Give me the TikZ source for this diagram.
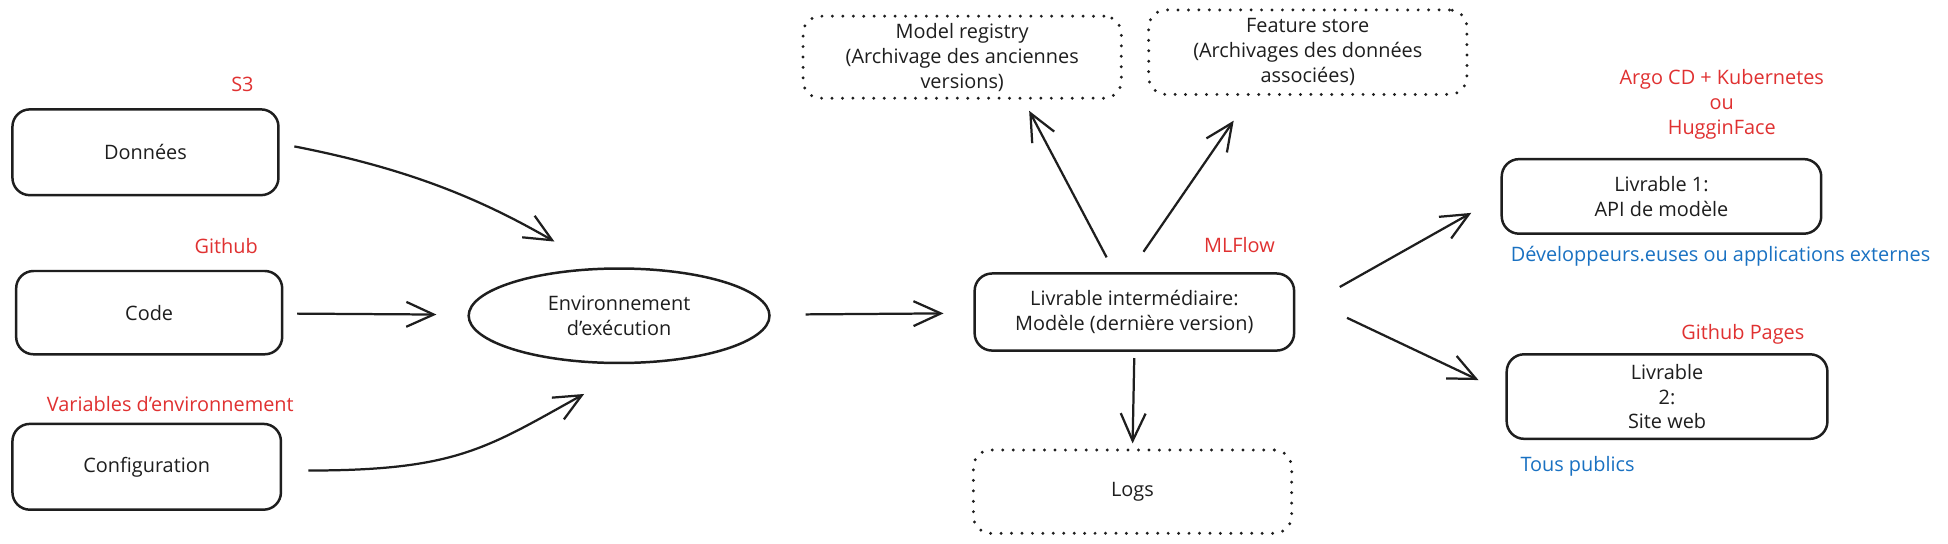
\documentclass[tikz,border=0pt]{standalone}
\usepackage{fontspec}
\setmainfont{Open Sans}
\usetikzlibrary{shapes.geometric,arrows.meta}
\definecolor{exred}{HTML}{E03131}
\definecolor{exblue}{HTML}{1971C2}
\definecolor{exink}{HTML}{1E1E1E}
\tikzset{
  box/.style={draw=exink, line width=1pt, rounded corners=7pt, align=center, inner sep=0pt},
  dotbox/.style={draw=exink, line width=1.3pt, rounded corners=7pt, align=center, inner sep=0pt,
    line cap=round, dash pattern=on 0pt off 4.2pt},
  envshape/.style={draw=exink, line width=1pt, ellipse, align=center, inner sep=0pt,
    minimum width=121pt, minimum height=38pt},
  redlbl/.style={text=exred, align=center, inner sep=0pt},
  bluelbl/.style={text=exblue, align=center, inner sep=0pt},
  arr/.style={draw=exink, line width=0.9pt, -{Straight Barb[length=11pt,width=10pt,line width=0.9pt]}},
}
\begin{document}
\begin{tikzpicture}[x=0.5pt,y=-0.5pt, font=\fontsize{8}{10}\selectfont, text=exink]
\useasboundingbox (0,0) rectangle (1567,437);
\fill[white] (0,0) rectangle (1567,437);

% left column
\node[redlbl] (s3) at (195,68) {S3};
\node[box, minimum width=107pt, minimum height=34.5pt] (don) at (117,122.5) {Données};
\node[redlbl] (gh) at (182,198) {Github};
\node[box, minimum width=107pt, minimum height=33.5pt] (code) at (120,251.5) {Code};
\node[redlbl] (var) at (137,325) {Variables d'environnement};
\node[box, minimum width=108pt, minimum height=34.5pt] (cfg) at (118,375.5) {Configuration};

% execution environment
\node[envshape] (env) at (498,254) {Environnement\\d'exécution};

% intermediate deliverable
\node[redlbl] (mlf) at (997,197) {MLFlow};
\node[box, minimum width=128.5pt, minimum height=31pt] (liv) at (912.5,251) {Livrable intermédiaire:\\Modèle (dernière version)};

% dotted boxes
\node[dotbox, minimum width=128pt, minimum height=33pt] (reg) at (774,46) {Model registry\\(Archivage des anciennes\\versions)};
\node[dotbox, minimum width=128pt, minimum height=34pt] (feat) at (1052,42) {Feature store\\(Archivages des données\\associées)};
\node[dotbox, minimum width=128pt, minimum height=33.5pt] (logs) at (911,395.5) {Logs};

% deliverables
\node[redlbl] (argo) at (1385,84) {Argo CD + Kubernetes\\ou\\HugginFace};
\node[box, minimum width=128.5pt, minimum height=30pt] (l1) at (1336.5,158) {Livrable 1:\\API de modèle};
\node[bluelbl] (dev) at (1384,206) {Développeurs.euses ou applications externes};
\node[redlbl] (ghp) at (1402,269) {Github Pages};
\node[box, minimum width=129pt, minimum height=34pt] (l2) at (1341,319) {Livrable\\2:\\Site web};
\node[bluelbl] (tous) at (1269,375) {Tous publics};

% connectors
\draw[arr, shorten <=6pt, shorten >=21pt] ([yshift=3.5pt]don.east) to[out=-11,in=150] (env.112);
\draw[arr, shorten <=5.5pt, shorten >=12.5pt] (code) -- (env);
\draw[arr, shorten <=10.5pt, shorten >=25pt] ([yshift=-1.5pt]cfg.east) to[out=0,in=-151,looseness=1.2] (env.-68);
\draw[arr, shorten <=14pt, shorten >=12pt] (env) -- (liv);
\draw[arr, shorten <=6.75pt, shorten >=5pt] ([xshift=-8pt]liv.north) -- ([xshift=24.6pt]reg.south);
\draw[arr, shorten <=10pt, shorten >=12pt] ([xshift=-2pt]liv.north) -- ([xshift=-23pt]feat.south);
\draw[arr, shorten <=2.5pt, shorten >=2pt] (liv.south) -- (logs.north);
\draw[arr, shorten <=20.5pt, shorten >=13.5pt] (liv.east) -- (l1.west);
\draw[arr, shorten <=23pt, shorten >=12pt] ([yshift=7.5pt]liv.east) -- ([yshift=1.5pt]l2.west);
\end{tikzpicture}
\end{document}
